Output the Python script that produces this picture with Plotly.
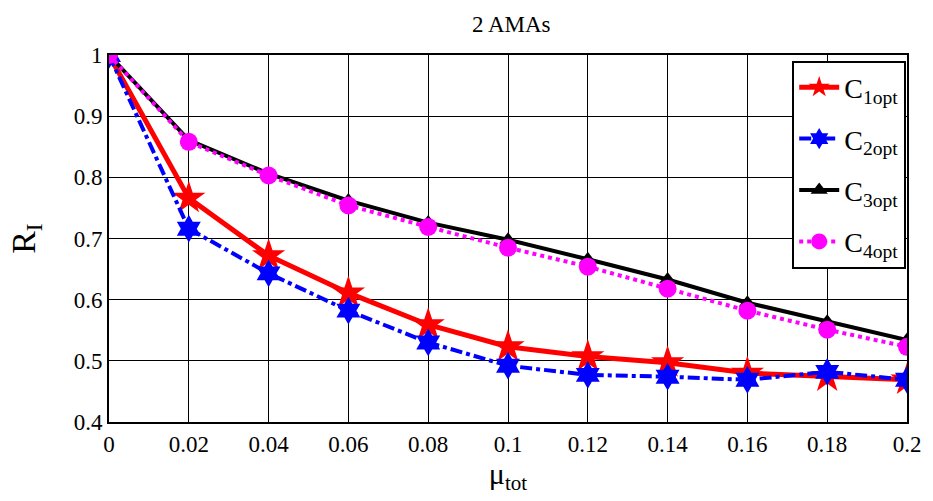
import plotly.graph_objects as go

mu_tot = [0, 0.02, 0.04, 0.06, 0.08, 0.1, 0.12, 0.14, 0.16, 0.18, 0.2]
c1opt = [1.0, 0.766, 0.672, 0.611, 0.559, 0.523, 0.507, 0.497, 0.480, 0.474, 0.469]
c2opt = [1.0, 0.716, 0.643, 0.582, 0.530, 0.492, 0.477, 0.474, 0.469, 0.482, 0.469]
c3opt = [1.0, 0.861, 0.806, 0.762, 0.726, 0.698, 0.666, 0.633, 0.595, 0.564, 0.534]
c4opt = [1.0, 0.858, 0.803, 0.754, 0.719, 0.685, 0.654, 0.618, 0.582, 0.551, 0.523]
series_names = ["C<sub>1opt</sub>", "C<sub>2opt</sub>", "C<sub>3opt</sub>", "C<sub>4opt</sub>"]
x_ticks = [0, 0.02, 0.04, 0.06, 0.08, 0.1, 0.12, 0.14, 0.16, 0.18, 0.2]
x_tick_labels = ["0", "0.02", "0.04", "0.06", "0.08", "0.1", "0.12", "0.14", "0.16", "0.18", "0.2"]
y_ticks = [0.4, 0.5, 0.6, 0.7, 0.8, 0.9, 1.0]
y_tick_labels = ["0.4", "0.5", "0.6", "0.7", "0.8", "0.9", "1"]

FONT = "'Liberation Serif', 'Times New Roman', Times, serif"

fig = go.Figure()
fig.add_trace(go.Scatter(x=mu_tot, y=c1opt, name=series_names[0], mode="lines+markers",
                         legendgroup="g1",
                         line=dict(color="#ff0000", width=5),
                         marker=dict(symbol="star", size=25, color="#ff0000")))
fig.add_trace(go.Scatter(x=mu_tot, y=c2opt, name=series_names[1], mode="lines+markers",
                         legendgroup="g2",
                         line=dict(color="#0000ff", width=4, dash="dashdot"),
                         marker=dict(symbol="hexagram", size=21, color="#0000ff")))
fig.add_trace(go.Scatter(x=mu_tot, y=c3opt, name=series_names[2], mode="lines+markers",
                         legendgroup="g3",
                         line=dict(color="#000000", width=4),
                         marker=dict(symbol="triangle-up", size=15, color="#000000")))
fig.add_trace(go.Scatter(x=mu_tot, y=c4opt, name=series_names[3], mode="lines+markers",
                         legendgroup="g4",
                         line=dict(color="#ff00ff", width=4, dash="dot"),
                         marker=dict(symbol="circle", size=18, color="#ff00ff")))

axis_common = dict(showgrid=True, gridcolor="#000000", gridwidth=1,
                   showline=True, linecolor="#000000", linewidth=2, mirror=True,
                   ticks="inside", ticklen=4, tickcolor="#000000",
                   zeroline=False, tickfont=dict(family=FONT, size=23, color="#000000"))

fig.update_layout(
    width=933, height=501,
    paper_bgcolor="white", plot_bgcolor="white",
    font=dict(family=FONT, color="#000000"),
    margin=dict(l=109, r=19, t=55, b=79),
    title=dict(text="2 AMAs", x=0.548, xanchor="center", y=0.952, yanchor="middle",
               font=dict(family=FONT, size=23, color="#000000")),
    xaxis=dict(range=[0, 0.2], tickvals=x_ticks, ticktext=x_tick_labels,
               ticklabeloverflow="allow",
               title=dict(text="μ<sub>tot</sub>", font=dict(family=FONT, size=30, color="#000000"), standoff=4),
               **axis_common),
    yaxis=dict(range=[0.4, 1.0], tickvals=y_ticks, ticktext=y_tick_labels,
               title=dict(text="R<sub>I</sub>", font=dict(family=FONT, size=34, color="#000000"), standoff=28),
               **axis_common),
    legend=dict(x=0.999, y=0.985, xanchor="right", yanchor="top",
                bgcolor="white", bordercolor="#000000", borderwidth=2,
                font=dict(family=FONT, size=28, color="#000000"),
                itemwidth=40, tracegroupgap=12),
    showlegend=True,
)

fig.write_html("out.html", config={"displayModeBar": False},
               post_script="document.body.style.margin='0';document.body.style.padding='0';")
